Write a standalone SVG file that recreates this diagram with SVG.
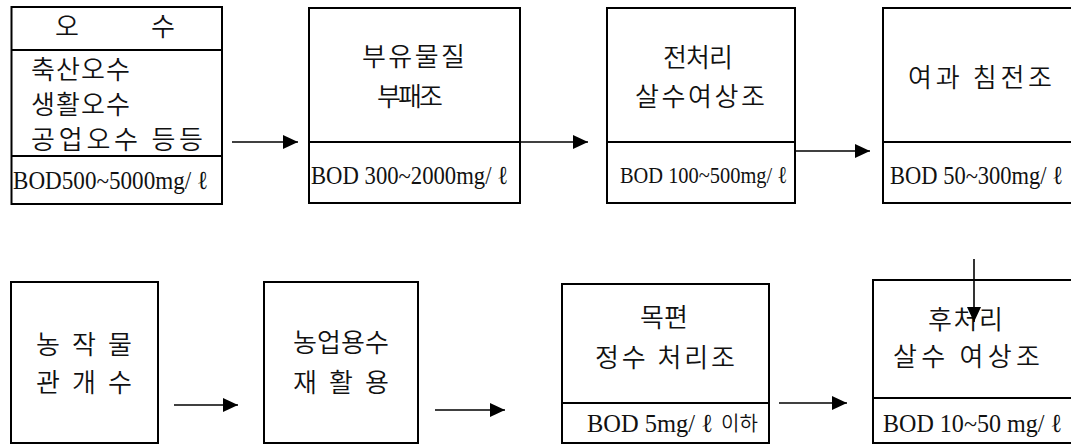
<svg xmlns="http://www.w3.org/2000/svg" width="1071" height="445" viewBox="0 0 1071 445">
<defs>
<marker id="ah" markerUnits="userSpaceOnUse" markerWidth="16" markerHeight="14" refX="15" refY="7" orient="auto">
<path d="M0,0 L15,7 L0,14 Z" fill="#000"/>
</marker>
<style>
.box{fill:#fff;stroke:#000;stroke-width:2}
.div{stroke:#000;stroke-width:2}
.ko{font-family:"Noto Sans CJK KR","Noto Sans",sans-serif;font-size:26px;fill:#111;font-weight:350}
.bod{font-family:"Liberation Serif","Noto Sans CJK KR",serif;font-size:26px;fill:#111}
.conn line{stroke:#000;stroke-width:1.6;marker-end:url(#ah)}
</style>
</defs>
<rect width="1071" height="445" fill="#fff"/>

<g id="n1">
<rect class="box" x="11.5" y="7" width="210.5" height="197"/>
<line class="div" x1="11.5" y1="50" x2="222" y2="50"/>
<line class="div" x1="11.5" y1="156" x2="222" y2="156"/>
<text class="ko" y="36"><tspan x="55">오</tspan><tspan x="151">수</tspan></text>
<text class="ko" x="31" y="79" textLength="99" lengthAdjust="spacing">축산오수</text>
<text class="ko" x="31" y="114" textLength="99" lengthAdjust="spacing">생활오수</text>
<text class="ko" x="31" y="149" textLength="172" lengthAdjust="spacing">공업오수 등등</text>
<text class="bod" x="13" y="189" textLength="195" lengthAdjust="spacingAndGlyphs">BOD500~5000mg/ ℓ</text>
</g>

<g id="n2">
<rect class="box" x="309" y="8" width="211" height="195"/>
<line class="div" x1="309" y1="142" x2="520" y2="142"/>
<text class="ko" x="362" y="66" textLength="103" lengthAdjust="spacing">부유물질</text>
<text class="ko" x="377" y="106" textLength="66" lengthAdjust="spacing">부패조</text>
<text class="bod" x="311" y="184" textLength="197" lengthAdjust="spacingAndGlyphs">BOD 300~2000mg/ ℓ</text>
</g>

<g id="n3">
<rect class="box" x="607" y="8" width="188" height="195"/>
<line class="div" x1="607" y1="142" x2="795" y2="142"/>
<text class="ko" x="663" y="67" textLength="70" lengthAdjust="spacing">전처리</text>
<text class="ko" x="635" y="106" textLength="130" lengthAdjust="spacing">살수여상조</text>
<text class="bod" x="620" y="183" textLength="167" lengthAdjust="spacingAndGlyphs" style="font-size:24px">BOD 100~500mg/ ℓ</text>
</g>

<g id="n4">
<rect class="box" x="883" y="8" width="200" height="195"/>
<line class="div" x1="883" y1="142" x2="1083" y2="142"/>
<text class="ko" x="908" y="87" textLength="144" lengthAdjust="spacing">여과 침전조</text>
<text class="bod" x="890" y="184" textLength="173" lengthAdjust="spacingAndGlyphs">BOD 50~300mg/ ℓ</text>
</g>

<g id="n5">
<rect class="box" x="11" y="282" width="147" height="161"/>
<text class="ko" x="36" y="354" textLength="96" lengthAdjust="spacing">농 작 물</text>
<text class="ko" x="36" y="392" textLength="96" lengthAdjust="spacing">관 개 수</text>
</g>

<g id="n6">
<rect class="box" x="264" y="282" width="154" height="161"/>
<text class="ko" x="293" y="352" textLength="96" lengthAdjust="spacing">농업용수</text>
<text class="ko" x="293" y="392" textLength="96" lengthAdjust="spacing">재 활 용</text>
</g>

<g id="n7">
<rect class="box" x="562" y="284" width="207" height="159"/>
<line class="div" x1="562" y1="403" x2="769" y2="403"/>
<text class="ko" x="640" y="327" textLength="48" lengthAdjust="spacing">목편</text>
<text class="ko" x="595" y="367" textLength="140" lengthAdjust="spacing">정수 처리조</text>
<text class="bod" x="587" y="432" textLength="126" lengthAdjust="spacingAndGlyphs">BOD 5mg/ ℓ</text>
<text class="ko" x="721" y="431" style="font-size:20px">이하</text>
</g>

<g id="n8">
<rect class="box" x="873" y="280" width="210" height="163"/>
<line class="div" x1="873" y1="398" x2="1083" y2="398"/>
<text class="ko" x="928" y="329" textLength="75" lengthAdjust="spacing">후처리</text>
<text class="ko" x="893" y="366" textLength="147" lengthAdjust="spacing">살수 여상조</text>
<text class="bod" x="883" y="432" textLength="179" lengthAdjust="spacingAndGlyphs">BOD 10~50 mg/ ℓ</text>
</g>

<g id="connectors" class="conn">
<line x1="232" y1="142" x2="298" y2="142"/>
<line x1="520" y1="142" x2="588" y2="142"/>
<line x1="795" y1="151" x2="870" y2="151"/>
<line x1="974" y1="259" x2="974" y2="322"/>
<line x1="174" y1="405" x2="238" y2="405"/>
<line x1="435" y1="410" x2="505" y2="410"/>
<line x1="779" y1="403" x2="847" y2="403"/>
</g>
</svg>
